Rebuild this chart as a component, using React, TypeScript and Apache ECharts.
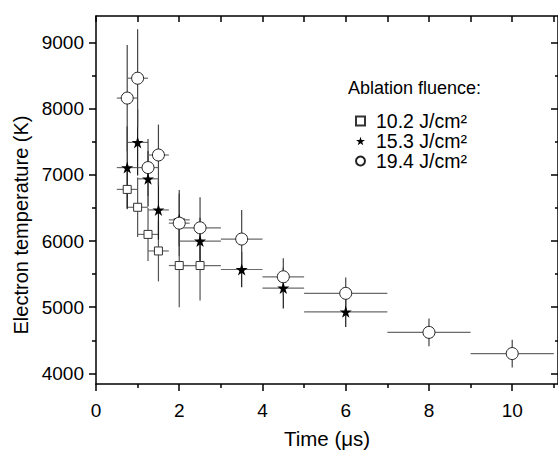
import React, { useEffect, useRef } from "react";
import * as echarts from "echarts";

// ---------- data ----------
const seriesNames = ["10.2 J/cm²", "15.3 J/cm²", "19.4 J/cm²"];

// 10.2 J/cm2 (open squares)
const sqTime = [0.75, 1.0, 1.25, 1.5, 2.0, 2.5];
const sqTemp = [6780, 6510, 6100, 5850, 5630, 5630];
const sqTimeErr = [0.25, 0.25, 0.25, 0.25, 0.25, 0.5];
const sqTempErr = [300, 450, 400, 460, 630, 530];

// 15.3 J/cm2 (stars)
const stTime = [0.75, 1.0, 1.25, 1.5, 2.0, 2.5, 3.5, 4.5, 6.0];
const stTemp = [7110, 7490, 6940, 6470, 6320, 6000, 5570, 5290, 4930];
const stTimeErr = [0.25, 0.25, 0.25, 0.25, 0.25, 0.5, 0.5, 0.5, 1.0];
const stTempErr = [620, 500, 420, 450, 400, 350, 270, 310, 230];

// 19.4 J/cm2 (open circles)
const ciTime = [0.75, 1.0, 1.25, 1.5, 2.0, 2.5, 3.5, 4.5, 6.0, 8.0, 10.0];
const ciTemp = [8160, 8460, 7110, 7300, 6270, 6200, 6030, 5460, 5210, 4620, 4300];
const ciTimeErr = [0.25, 0.25, 0.25, 0.25, 0.25, 0.5, 0.5, 0.5, 1.0, 1.0, 1.0];
const ciTempErr = [800, 740, 430, 460, 500, 460, 440, 280, 240, 210, 210];

// ticks
const xMajorTicks = [0, 2, 4, 6, 8, 10];
const xMinorTicks = [1, 3, 5, 7, 9, 11];
const xTopTicks = [0, 1, 2, 3, 4, 5, 6, 7, 8, 9, 10, 11];
const yMajorTicks = [4000, 5000, 6000, 7000, 8000, 9000];
const yMinorTicks = [4500, 5500, 6500, 7500, 8500];

const X_MIN = 0;
const X_MAX = 11.1;
const Y_MIN = 3840;
const Y_MAX = 9400;

const FONT = "'Liberation Sans', Arial, sans-serif";
const STAR =
  "path://M50,0 L61.2,34.5 L97.6,34.5 L68.2,55.9 L79.4,90.5 L50,69.1 L20.6,90.5 L31.8,55.9 L2.4,34.5 L38.8,34.5 Z";

const zip = (t: number[], v: number[], et: number[], ev: number[]) =>
  t.map((x, i) => [x, v[i], et[i], ev[i]]);

const errRender = (hColor: string, vColor: string) => (params: any, api: any) => {
  const x = api.value(0);
  const y = api.value(1);
  const dx = api.value(2);
  const dy = api.value(3);
  const a = api.coord([x - dx, y]);
  const b = api.coord([x + dx, y]);
  const c = api.coord([x, y + dy]);
  const d = api.coord([x, y - dy]);
  return {
    type: "group",
    children: [
      { type: "line", shape: { x1: a[0], y1: a[1], x2: b[0], y2: b[1] }, style: { stroke: hColor, lineWidth: 1.2 } },
      { type: "line", shape: { x1: c[0], y1: c[1], x2: d[0], y2: d[1] }, style: { stroke: vColor, lineWidth: 1.2 } },
    ],
  };
};

const lineStyle = { color: "#000", width: 1.5 };
const plain = (v: number) => String(v);

function xAxisDef(position: string, ticks: number[], len: number, inside: boolean, showLine: boolean, labels: number[] | null, name?: string) {
  return {
    type: "value",
    position,
    min: X_MIN,
    max: X_MAX,
    name: name || "",
    nameLocation: "middle",
    nameGap: 44,
    nameTextStyle: { fontSize: 20.5, color: "#000", fontFamily: FONT },
    axisLine: { show: showLine, onZero: false, lineStyle },
    axisTick: { show: true, inside, length: len, customValues: ticks, lineStyle: { color: "#000", width: 1.5 } },
    axisLabel: labels
      ? { show: true, customValues: labels, formatter: plain, fontSize: 19, color: "#000", fontFamily: FONT, margin: 17 }
      : { show: false },
    splitLine: { show: false },
  };
}

function yAxisDef(position: string, ticks: number[], len: number, inside: boolean, showLine: boolean, labels: number[] | null, name?: string) {
  return {
    type: "value",
    position,
    min: Y_MIN,
    max: Y_MAX,
    name: name || "",
    nameLocation: "middle",
    nameGap: 62,
    nameRotate: 90,
    nameTextStyle: { fontSize: 20, color: "#000", fontFamily: FONT, padding: [0, 50, 0, 0] },
    axisLine: { show: showLine, onZero: false, lineStyle },
    axisTick: { show: true, inside, length: len, customValues: ticks, lineStyle: { color: "#000", width: 1.5 } },
    axisLabel: labels
      ? { show: true, customValues: labels, formatter: plain, fontSize: 19, color: "#000", fontFamily: FONT, margin: 12 }
      : { show: false },
    splitLine: { show: false },
  };
}

export default function App() {
  const ref = useRef<HTMLDivElement>(null);

  useEffect(() => {
    if (!ref.current) return;
    const chart = echarts.init(ref.current, undefined, { renderer: "svg" });
    chart.setOption({
      animation: false,
      backgroundColor: "#fff",
      textStyle: { fontFamily: FONT },
      title: {
        text: "Ablation fluence:",
        left: 348,
        top: 79,
        padding: 0,
        textStyle: { fontSize: 18, fontWeight: "normal", color: "#000", fontFamily: FONT },
      },
      legend: {
        data: seriesNames,
        orient: "vertical",
        left: 355,
        top: 111,
        padding: 0,
        itemGap: 0,
        itemWidth: 9,
        itemHeight: 9,
        selectedMode: false,
        textStyle: { fontSize: 19.5, color: "#000", fontFamily: FONT, padding: [0, 0, 0, 6] },
      },
      grid: { left: 96, top: 16, right: -1, bottom: 66, containLabel: false },
      xAxis: [
        xAxisDef("bottom", xMajorTicks, 7, false, true, xMajorTicks, "Time (μs)"),
        xAxisDef("bottom", xMinorTicks, 4, false, false, null),
        xAxisDef("top", xTopTicks, 6, true, true, null),
      ],
      yAxis: [
        yAxisDef("left", yMajorTicks, 7, false, true, yMajorTicks, "Electron temperature (K)"),
        yAxisDef("left", yMinorTicks, 4, false, false, null),
        yAxisDef("right", yMajorTicks, 7, true, true, null),
        yAxisDef("right", yMinorTicks, 3, true, false, null),
      ],
      series: [
        {
          name: "err-a",
          type: "custom",
          xAxisIndex: 0,
          yAxisIndex: 0,
          z: 1,
          renderItem: errRender("#6a6a6a", "#555"),
          encode: { x: 0, y: 1 },
          data: zip(sqTime, sqTemp, sqTimeErr, sqTempErr),
        },
        {
          name: "err-b",
          type: "custom",
          xAxisIndex: 0,
          yAxisIndex: 0,
          z: 1,
          renderItem: errRender("#6a6a6a", "#1a1a1a"),
          encode: { x: 0, y: 1 },
          data: zip(stTime, stTemp, stTimeErr, stTempErr),
        },
        {
          name: "err-c",
          type: "custom",
          xAxisIndex: 0,
          yAxisIndex: 0,
          z: 1,
          renderItem: errRender("#6a6a6a", "#444"),
          encode: { x: 0, y: 1 },
          data: zip(ciTime, ciTemp, ciTimeErr, ciTempErr),
        },
        {
          name: seriesNames[0],
          type: "scatter",
          xAxisIndex: 0,
          yAxisIndex: 0,
          z: 3,
          symbol: "rect",
          symbolSize: 8,
          itemStyle: { color: "#fff", borderColor: "#333", borderWidth: 1, opacity: 1 },
          data: sqTime.map((t, i) => [t, sqTemp[i]]),
        },
        {
          name: seriesNames[1],
          type: "scatter",
          xAxisIndex: 0,
          yAxisIndex: 0,
          z: 3,
          symbol: STAR,
          symbolSize: 12,
          itemStyle: { color: "#000", opacity: 1 },
          data: stTime.map((t, i) => [t, stTemp[i]]),
        },
        {
          name: seriesNames[2],
          type: "scatter",
          xAxisIndex: 0,
          yAxisIndex: 0,
          z: 4,
          symbol: "circle",
          symbolSize: 12,
          itemStyle: { color: "#fff", borderColor: "#222", borderWidth: 1, opacity: 1 },
          data: ciTime.map((t, i) => [t, ciTemp[i]]),
        },
      ],
    });
    return () => chart.dispose();
  }, []);

  return (
    <div
      ref={ref}
      style={{ position: "absolute", left: 0, top: 0, width: 558, height: 454, overflow: "hidden" }}
    />
  );
}
